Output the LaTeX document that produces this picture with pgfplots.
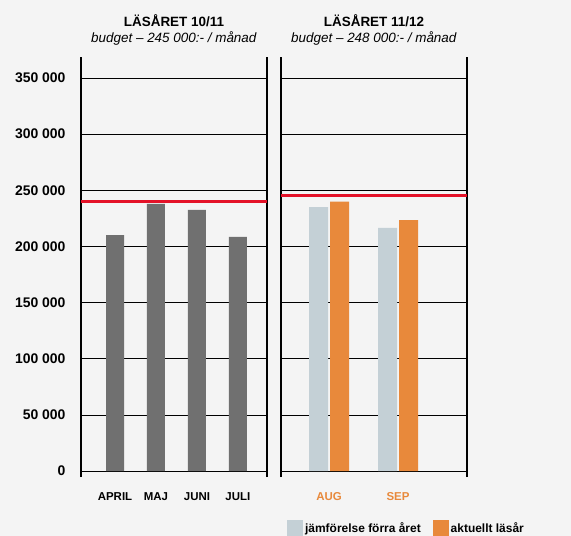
\documentclass[border=0pt]{standalone}
\usepackage{pgfplots}
\pgfplotsset{compat=1.18}
\usepackage{fontspec}
\setmainfont{Liberation Sans}
\definecolor{bg}{RGB}{244,244,244}
\definecolor{darkbar}{RGB}{112,112,112}
\definecolor{lightbar}{RGB}{196,208,214}
\definecolor{orangebar}{RGB}{232,137,59}
\definecolor{budgetred}{RGB}{228,18,40}
\begin{document}
\begin{tikzpicture}
\path[use as bounding box] (0,0) rectangle (571bp,-536bp);
\fill[bg] (0,0) rectangle (571bp,-536bp);
\pgfplotsset{
 panel/.style={
  scale only axis, width=186bp, height=420bp, anchor=south west,
  ymin=-5344, ymax=368700,
  ytick={0,50000,100000,150000,200000,250000,300000,350000},
  scaled y ticks=false,
  ymajorgrids, grid style={black, line width=0.7bp},
  separate axis lines,
  x axis line style={draw=none},
  y axis line style={black, line width=1.8bp},
  major tick length=0pt,
  xticklabel style={font=\bfseries\fontsize{11.5}{13}\selectfont, yshift=-12bp},
  title style={align=center, anchor=south, inner sep=0pt, yshift=6bp, font=\fontsize{13.5}{16}\selectfont},
 },
}
\begin{axis}[panel, at={(81bp,-477bp)}, xmin=-0.83, xmax=3.71,
 xtick={0,1,2,3}, xticklabels={APRIL,MAJ,JUNI,JULI},
 yticklabels={0,50 000,100 000,150 000,200 000,250 000,300 000,350 000},
 yticklabel style={font=\bfseries\fontsize{14}{16}\selectfont, xshift=-12bp},
 title={\textbf{LÄSÅRET 10/11}\\\textit{budget – 245 000:- / månad}}]
\addplot[ybar, bar width=18bp, bar shift=0pt, fill=darkbar, draw=none] coordinates {(0,210000) (1,238000) (2,232500) (3,208500)};
\addplot[budgetred, line width=3bp] coordinates {(-0.83,240000) (3.71,240000)};
\end{axis}
\begin{axis}[panel, at={(281bp,-477bp)}, xmin=-0.696, xmax=2.0,
 xtick={0,1}, xticklabels={AUG,SEP},
 xticklabel style={text=orangebar},
 yticklabels={},
 title={\textbf{LÄSÅRET 11/12}\\\textit{budget – 248 000:- / månad}},
 legend style={at={(0.032,-0.1024)}, anchor=north west, draw=none, fill=none, inner sep=0pt,
   legend columns=2, font=\bfseries\fontsize{12}{13}\selectfont,
   /tikz/every even column/.append style={column sep=10bp}}]
\addplot[ybar, bar width=19bp, bar shift=-10.5bp, fill=lightbar, draw=none,
 legend image code/.code={\fill[lightbar] (0bp,-8bp) rectangle (16bp,8bp);}] coordinates {(0,235000) (1,216500)};
\addplot[ybar, bar width=19bp, bar shift=10.5bp, fill=orangebar, draw=none,
 legend image code/.code={\fill[orangebar] (0bp,-8bp) rectangle (16bp,8bp);}] coordinates {(0,240000) (1,223500)};
\addplot[budgetred, line width=3bp, forget plot] coordinates {(-0.696,245000) (2.0,245000)};
\legend{jämförelse förra året, aktuellt läsår}
\end{axis}
\end{tikzpicture}
\end{document}
